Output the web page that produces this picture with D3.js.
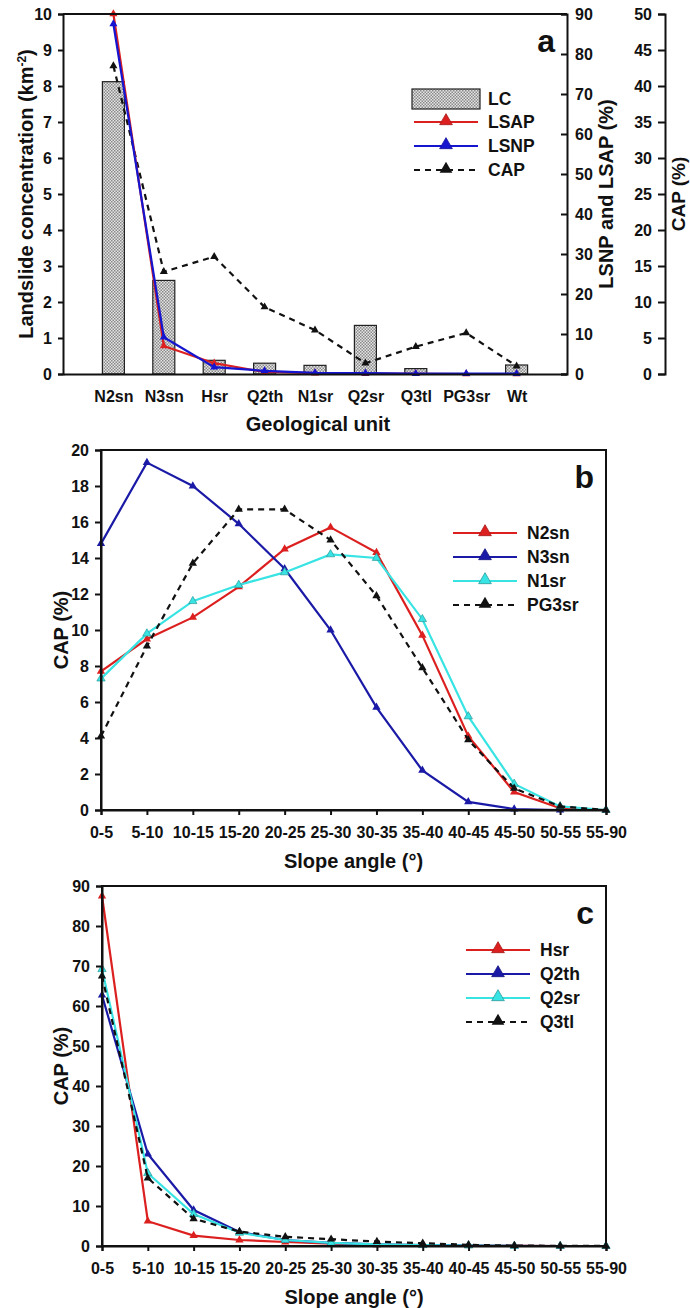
<!DOCTYPE html>
<html>
<head>
<meta charset="utf-8">
<script src="https://cdn.jsdelivr.net/npm/d3@7"></script>
<style>
  body { margin: 0; background: #fff; }
  svg text { font-family: "Liberation Sans", Arial, sans-serif; font-weight: bold; fill: #111; }
  .axis path, .axis line { stroke: #111; stroke-width: 2; }
</style>
</head>
<body>
<svg id="chart" width="690" height="1308"></svg>
<script>
// panel a data
const unitsA = ["N2sn", "N3sn", "Hsr", "Q2th", "N1sr", "Q2sr", "Q3tl", "PG3sr", "Wt"]
const lcA = [8.12, 2.6, 0.38, 0.3, 0.24, 1.35, 0.15, 0, 0.25]
const lsapA = [90, 7, 2.7, 0.5, 0.2, 0.1, 0.05, 0, 0]
const lsnpA = [87.5, 9.2, 1.7, 0.8, 0.3, 0.2, 0.1, 0.1, 0.1]
const capA = [42.8, 14.2, 16.3, 9.3, 6.1, 1.5, 3.8, 5.7, 1.1]

// panel b / c data
const slopes = ["0-5", "5-10", "10-15", "15-20", "20-25", "25-30", "30-35", "35-40", "40-45", "45-50", "50-55", "55-90"]
const n2sn = [7.7, 9.5, 10.7, 12.4, 14.5, 15.7, 14.3, 9.7, 4.1, 1.0, 0.1, 0]
const n3sn = [14.8, 19.3, 18.0, 15.9, 13.4, 10.0, 5.7, 2.2, 0.45, 0.05, 0, 0]
const n1sr = [7.3, 9.8, 11.6, 12.5, 13.2, 14.2, 14.0, 10.6, 5.2, 1.45, 0.2, 0]
const pg3sr = [4.1, 9.1, 13.7, 16.7, 16.7, 15.0, 11.9, 7.9, 3.9, 1.2, 0.2, 0]

const hsr = [87.5, 6.2, 2.6, 1.5, 1.0, 0.6, 0.3, 0.2, 0.1, 0.05, 0, 0]
const q2th = [62.7, 23.0, 9.0, 3.5, 1.5, 0.8, 0.4, 0.2, 0.1, 0.05, 0, 0]
const q2sr = [69.2, 18.2, 8.0, 3.3, 1.5, 0.8, 0.4, 0.2, 0.1, 0, 0, 0]
const q3tl = [67.5, 17.0, 6.8, 3.6, 2.3, 1.7, 1.1, 0.7, 0.3, 0.1, 0.05, 0]

const RED = "#dc1f1f", BLUE = "#1515d0", DBLUE = "#1a1aa6", CYAN = "#38e3e3"

const svg = d3.select("#chart")

// checker pattern for the LC bars
let pat = svg.append("defs").append("pattern")
    .attr("id", "chk").attr("width", 3).attr("height", 3)
    .attr("patternUnits", "userSpaceOnUse")
pat.append("rect").attr("width", 3).attr("height", 3).attr("fill", "#e4e4e4")
pat.append("rect").attr("width", 1.5).attr("height", 1.5).attr("fill", "#8a8a8a")
pat.append("rect").attr("x", 1.5).attr("y", 1.5).attr("width", 1.5).attr("height", 1.5).attr("fill", "#8a8a8a")

const tri = d3.symbol().type(d3.symbolTriangle)

function styleAxis(g, size) {
    g.attr("class", "axis")
    g.selectAll("text").attr("font-size", size || 16)
}

function legendRow(g, x, y, label, color, dashed, hollow) {
    g.append("line").attr("x1", x).attr("x2", x + 64).attr("y1", y).attr("y2", y)
        .attr("stroke", color).attr("stroke-width", 2.2)
        .attr("stroke-dasharray", dashed ? "6,5" : null)
    g.append("path").attr("d", tri.size(70)())
        .attr("transform", "translate(" + (x + 32) + "," + (y - 1) + ")")
        .attr("fill", color)
        .attr("stroke", hollow ? "#2a9a9a" : (dashed ? "none" : d3.color(color).darker(0.8)))
        .attr("stroke-width", 0.8)
    g.append("text").attr("x", x + 74).attr("y", y + 6).attr("font-size", 17.5).text(label)
}

// ---------------- panel a ----------------
function drawA() {
    let m = { left: 63, right: 567, top: 14, bottom: 374 }
    let g = svg.append("g")

    let x = d3.scalePoint().domain(unitsA).range([m.left, m.right]).padding(1)
    let yL = d3.scaleLinear().domain([0, 10]).range([m.bottom, m.top])
    let yR = d3.scaleLinear().domain([0, 90]).range([m.bottom, m.top])
    let yC = d3.scaleLinear().domain([0, 50]).range([m.bottom, m.top])

    g.selectAll("rect.bar")
        .data(unitsA.map((k, i) => ({ key: k, value: lcA[i] })).filter(d => d.value > 0))
        .enter().append("rect")
        .attr("class", "bar")
        .attr("x", d => x(d.key) - 11)
        .attr("width", 22)
        .attr("y", d => yL(d.value))
        .attr("height", d => m.bottom - yL(d.value))
        .attr("fill", "url(#chk)")
        .attr("stroke", "#222").attr("stroke-width", 1.2)

    let series = [
        { vals: capA, y: yC, color: "#111", dash: "6,5" },
        { vals: lsapA, y: yR, color: RED },
        { vals: lsnpA, y: yR, color: BLUE }
    ]
    series.forEach(s => {
        let line = d3.line().x((d, i) => x(unitsA[i])).y(d => s.y(d))
        g.append("path").datum(s.vals).attr("d", line)
            .attr("fill", "none").attr("stroke", s.color).attr("stroke-width", 2.2)
            .attr("stroke-dasharray", s.dash || null)
        g.selectAll(null).data(s.vals).enter().append("path")
            .attr("d", tri.size(28)())
            .attr("transform", (d, i) => "translate(" + x(unitsA[i]) + "," + s.y(d) + ")")
            .attr("fill", s.color)
    })

    // frame top line
    g.append("line").attr("x1", m.left).attr("x2", m.right).attr("y1", m.top).attr("y2", m.top)
        .attr("stroke", "#111").attr("stroke-width", 2)

    g.append("g").attr("transform", "translate(0," + m.bottom + ")")
        .call(d3.axisBottom(x).tickSize(0).tickPadding(17))
        .call(ax => styleAxis(ax, 16))
    g.append("g").attr("transform", "translate(" + m.left + ",0)")
        .call(d3.axisLeft(yL).ticks(10).tickSizeOuter(0).tickSize(5).tickPadding(6))
        .call(styleAxis)
    g.append("g").attr("transform", "translate(" + m.right + ",0)")
        .call(d3.axisRight(yR).ticks(9).tickSizeOuter(0).tickSize(-6).tickPadding(8))
        .call(styleAxis)
    g.append("g").attr("transform", "translate(665,0)")
        .call(d3.axisLeft(yC).ticks(10).tickSizeOuter(0).tickSize(7).tickPadding(6))
        .call(styleAxis)

    g.append("text").attr("transform", "translate(33," + ((m.top + m.bottom) / 2) + ") rotate(-90)")
        .attr("text-anchor", "middle").attr("font-size", 20)
        .html('Landslide concentration (km<tspan dy="-7" font-size="12">-2</tspan><tspan dy="7">)</tspan>')
    g.append("text").attr("transform", "translate(613," + ((m.top + m.bottom) / 2) + ") rotate(-90)")
        .attr("text-anchor", "middle").attr("font-size", 20).text("LSNP and LSAP (%)")
    g.append("text").attr("transform", "translate(685," + ((m.top + m.bottom) / 2) + ") rotate(-90)")
        .attr("text-anchor", "middle").attr("font-size", 19).text("CAP (%)")
    g.append("text").attr("x", 318).attr("y", 431).attr("text-anchor", "middle")
        .attr("font-size", 20).text("Geological unit")
    g.append("text").attr("x", 555).attr("y", 52).attr("text-anchor", "end")
        .attr("font-size", 32).text("a")

    // legend
    let lg = g.append("g")
    lg.append("rect").attr("x", 412).attr("y", 89).attr("width", 68).attr("height", 20)
        .attr("fill", "url(#chk)").attr("stroke", "#222").attr("stroke-width", 1.2)
    lg.append("text").attr("x", 488).attr("y", 105).attr("font-size", 17.5).text("LC")
    legendRow(lg, 414, 122, "LSAP", RED)
    legendRow(lg, 414, 146, "LSNP", BLUE)
    legendRow(lg, 414, 170, "CAP", "#111", true)
}

// ---------------- panels b and c ----------------
function drawSlope(opt) {
    let m = opt.box
    let g = svg.append("g")
    let x = d3.scalePoint().domain(slopes).range([m.left, m.right])
    let y = d3.scaleLinear().domain([0, opt.ymax]).range([m.bottom, m.top])

    opt.series.forEach(s => {
        let line = d3.line().x((d, i) => x(slopes[i])).y(d => y(d))
        g.append("path").datum(s.vals).attr("d", line)
            .attr("fill", "none").attr("stroke", s.color).attr("stroke-width", 2.2)
            .attr("stroke-dasharray", s.dash ? "6,5" : null)
        g.selectAll(null).data(s.vals).enter().append("path")
            .attr("d", tri.size(30)())
            .attr("transform", (d, i) => "translate(" + x(slopes[i]) + "," + y(d) + ")")
            .attr("fill", s.color)
            .attr("stroke", s.hollow ? "#2a9a9a" : "none").attr("stroke-width", 0.7)
    })

    g.append("rect").attr("x", m.left).attr("y", m.top)
        .attr("width", m.right - m.left).attr("height", m.bottom - m.top)
        .attr("fill", "none").attr("stroke", "#111").attr("stroke-width", 2)

    g.append("g").attr("transform", "translate(0," + m.bottom + ")")
        .call(d3.axisBottom(x).tickSizeOuter(0).tickSize(5).tickPadding(12))
        .call(ax => styleAxis(ax, 16))
    g.append("g").attr("transform", "translate(" + m.left + ",0)")
        .call(d3.axisLeft(y).ticks(opt.ticks).tickSizeOuter(0).tickSize(6).tickPadding(6))
        .call(ax => styleAxis(ax, 16))

    g.append("text").attr("transform", "translate(68," + ((m.top + m.bottom) / 2) + ") rotate(-90)")
        .attr("text-anchor", "middle").attr("font-size", 20).text("CAP (%)")
    g.append("text").attr("x", (m.left + m.right) / 2).attr("y", m.bottom + 58)
        .attr("text-anchor", "middle").attr("font-size", 20).text("Slope angle (°)")
    g.append("text").attr("x", m.right - 12).attr("y", m.top + 38).attr("text-anchor", "end")
        .attr("font-size", 32).text(opt.tag)

    let lg = g.append("g")
    opt.series.forEach((s, i) => {
        legendRow(lg, opt.legX, opt.legY + i * 24, s.name, s.color, s.dash, s.hollow)
    })
}

drawA()
drawSlope({
    box: { left: 101, right: 606, top: 450, bottom: 810 },
    ymax: 20, ticks: 10, tag: "b", legX: 453, legY: 533,
    series: [
        { name: "N2sn", vals: n2sn, color: RED },
        { name: "N3sn", vals: n3sn, color: DBLUE },
        { name: "N1sr", vals: n1sr, color: CYAN, hollow: true },
        { name: "PG3sr", vals: pg3sr, color: "#111", dash: true }
    ]
})
drawSlope({
    box: { left: 102, right: 606, top: 886, bottom: 1246 },
    ymax: 90, ticks: 9, tag: "c", legX: 466, legY: 950,
    series: [
        { name: "Hsr", vals: hsr, color: RED },
        { name: "Q2th", vals: q2th, color: DBLUE },
        { name: "Q2sr", vals: q2sr, color: CYAN, hollow: true },
        { name: "Q3tl", vals: q3tl, color: "#111", dash: true }
    ]
})
</script>
</body>
</html>
